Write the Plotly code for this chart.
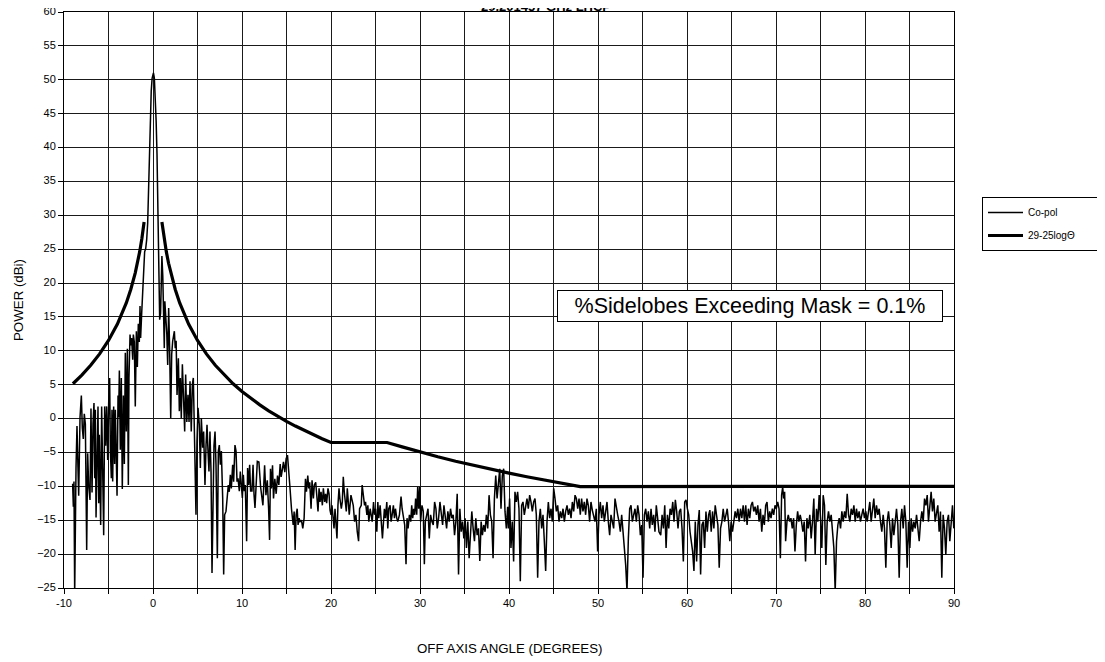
import plotly.graph_objects as go

# ---------------- data ----------------
title_text = "29.201457 GHz LHCP"
x_tick_vals = [-10, -5, 0, 5, 10, 15, 20, 25, 30, 35, 40, 45, 50, 55, 60, 65, 70, 75, 80, 85, 90]
x_tick_text = ["-10", "", "0", "", "10", "", "20", "", "30", "", "40", "", "50", "", "60", "", "70", "", "80", "", "90"]
y_tick_vals = list(range(-25, 61, 5))

# Co-pol measured pattern (angle deg, power dBi), by region
copol_left = [(-9.03,-9.6),(-8.95,-13.0),(-8.88,-9.3),(-8.80,-26.0),(-8.65,-7.2),(-8.54,-1.1),(-8.43,-7.2),(-8.35,-11.4),(-8.20,0.2),(-8.05,3.4),(-7.94,-1.4),(-7.83,-3.0),(-7.72,0.7),(-7.60,-0.8),(-7.45,-19.4),(-7.34,-5.1),(-7.23,-9.8),(-7.08,-12.0),(-6.97,1.5),(-6.85,-10.9),(-6.74,-0.8),(-6.63,2.3),(-6.55,-8.8),(-6.48,1.3),(-6.40,-14.6),(-6.29,-4.0),(-6.18,1.8),(-6.10,-12.5),(-6.03,-2.4),(-5.88,-15.7),(-5.77,1.8),(-5.66,-7.2),(-5.54,-17.2),(-5.43,1.8),(-5.32,-4.0),(-5.21,1.8),(-5.09,-6.1),(-4.98,2.3),(-4.87,6.0),(-4.79,-4.6),(-4.68,-8.8),(-4.61,1.3),(-4.53,-9.3),(-4.42,1.8),(-4.31,-6.7),(-4.23,1.3),(-4.16,-5.1),(-4.04,-11.4),(-3.93,3.4),(-3.86,0.2),(-3.78,7.1),(-3.67,-4.6),(-3.56,6.0),(-3.45,-10.4),(-3.33,3.4),(-3.22,-6.7),(-3.11,9.7),(-3.00,-1.9),(-2.88,10.3),(-2.77,-9.8),(-2.70,6.0),(-2.58,12.4),(-2.51,10.8),(-2.40,11.9),(-2.28,8.7),(-2.21,12.4),(-2.10,11.3),(-1.99,1.8),(-1.87,12.9),(-1.76,7.6),(-1.65,14.0),(-1.54,11.3),(-1.46,16.6),(-1.39,11.9),(-1.27,15.6),(-1.16,19.3),(-1.05,20.3),(-0.94,24.6),(-0.82,25.1),(-0.71,26.4)]
copol_beam = [(-0.60,28.8),(-0.50,34.5),(-0.40,40.5),(-0.30,45.0),(-0.20,48.3),(-0.10,50.2),(0.05,51.0),(0.15,50.3),(0.25,48.0),(0.35,44.0),(0.45,39.0),(0.55,31.0),(0.62,25.0),(0.68,20.5),(0.75,14.6),(0.85,15.5),(1.00,24.0)]
copol_near_right = [(1.10,21.0),(1.20,15.0),(1.27,10.4),(1.33,17.3),(1.39,16.0),(1.47,14.0),(1.55,12.5),(1.65,7.9),(1.76,16.3),(1.87,10.4),(1.99,0.1),(2.10,9.5),(2.21,11.4),(2.40,12.9),(2.50,10.4),(2.60,11.5),(2.70,3.5),(2.85,8.9),(2.96,1.1),(3.07,6.0),(3.18,0.1),(3.30,8.0),(3.40,5.0),(3.56,-1.9),(3.67,6.5),(3.80,-0.5),(3.93,3.5),(4.05,-0.5),(4.16,5.5),(4.30,-1.9),(4.42,5.0),(4.53,6.0),(4.68,-3.9),(4.83,-14.2),(4.94,-3.4),(5.06,1.6),(5.20,-0.9),(5.32,-7.3),(5.43,0.1),(5.58,-4.3),(5.69,-1.9),(5.84,-9.8),(5.96,-3.9),(6.07,-0.9),(6.18,-4.8),(6.29,-7.8),(6.40,-1.9),(6.52,-7.8),(6.63,-22.8),(6.75,-7.8),(6.85,-4.0),(6.97,-1.9),(7.08,-6.8),(7.23,-20.6),(7.34,-4.8),(7.45,-3.9),(7.57,-6.8),(7.68,-4.8),(7.83,-11.7),(7.94,-23.0),(8.05,-14.2),(8.20,-13.7),(8.35,-11.2),(8.46,-9.8),(8.57,-10.8),(8.69,-8.3),(8.80,-10.3),(8.95,-6.8),(9.06,-9.3),(9.21,-3.9),(9.33,-4.8),(9.44,-9.3),(9.55,-8.8),(9.70,-10.7),(9.81,-7.8),(9.93,-9.8),(10.04,-11.7),(10.15,-8.3),(10.26,-10.7),(10.37,-9.8),(10.52,-18.1),(10.63,-7.3),(10.75,-9.8),(10.86,-6.8),(10.97,-10.7),(11.12,-10.7),(11.24,-6.8),(11.35,-11.2),(11.46,-13.2),(11.57,-10.3),(11.72,-6.3)]
copol_12_23 = [(11.90,-6.4),(12.09,-10.1),(12.35,-12.8),(12.54,-6.9),(12.69,-11.3),(12.84,-9.1),(12.99,-13.3),(13.10,-17.9),(13.20,-7.4),(13.30,-10.3),(13.43,-6.9),(13.54,-11.8),(13.69,-8.9),(13.84,-11.1),(13.99,-8.4),(14.14,-9.8),(14.29,-6.7),(14.40,-8.6),(14.55,-7.4),(14.66,-6.4),(14.81,-7.9),(14.96,-5.9),(15.11,-5.4),(15.22,-7.9),(15.37,-9.8),(15.56,-13.3),(15.75,-15.7),(15.86,-13.7),(15.97,-19.4),(16.08,-14.2),(16.20,-13.3),(16.30,-15.7),(16.42,-14.7),(16.53,-15.2),(16.68,-15.0),(16.83,-16.2),(16.98,-14.7),(17.13,-8.9),(17.24,-10.8),(17.39,-8.4),(17.50,-10.3),(17.61,-9.4),(17.76,-13.3),(17.87,-9.1),(18.02,-11.8),(18.13,-9.8),(18.28,-9.4),(18.40,-11.3),(18.54,-13.7),(18.66,-10.3),(18.77,-12.3),(18.88,-10.8),(19.03,-12.8),(19.14,-10.3),(19.29,-12.3),(19.40,-11.1),(19.51,-12.5),(19.66,-10.3),(19.78,-11.1),(19.89,-13.5),(20.00,-14.2),(20.11,-12.8),(20.22,-14.7),(20.34,-16.2),(20.45,-13.3),(20.56,-15.2),(20.67,-17.7),(20.78,-12.8),(20.90,-10.3),(21.00,-11.8),(21.16,-13.3),(21.27,-12.3),(21.38,-8.6),(21.49,-10.8),(21.60,-12.3),(21.72,-13.7),(21.83,-10.3),(21.94,-11.8),(22.05,-14.2),(22.24,-11.3),(22.39,-12.3),(22.50,-12.8),(22.65,-15.2),(22.80,-14.2),(22.95,-16.7),(23.10,-18.1)]
copol_23_40 = [(23.21,-13.3),(23.40,-12.8),(23.50,-9.8),(23.66,-11.8),(23.77,-12.8),(23.88,-12.3),(24.03,-14.2),(24.14,-12.8),(24.25,-15.2),(24.40,-13.3),(24.52,-14.2),(24.63,-15.2),(24.78,-12.3),(24.89,-14.2),(25.00,-13.3),(25.15,-16.7),(25.26,-12.3),(25.37,-14.7),(25.52,-12.8),(25.63,-15.7),(25.78,-17.7),(25.90,-15.2),(26.00,-13.3),(26.12,-14.7),(26.27,-12.3),(26.38,-16.2),(26.49,-13.3),(26.64,-12.8),(26.75,-15.2),(26.87,-14.2),(27.01,-12.8),(27.13,-14.7),(27.24,-13.3),(27.39,-14.7),(27.50,-15.2),(27.69,-14.2),(27.87,-11.5),(27.99,-13.3),(28.13,-14.2),(28.28,-15.7),(28.43,-21.5),(28.54,-14.7),(28.66,-16.2),(28.81,-14.2),(28.96,-15.2),(29.07,-12.8),(29.18,-14.7),(29.29,-13.3),(29.40,-14.2),(29.51,-11.8),(29.63,-14.2),(29.74,-10.1),(29.85,-13.3),(29.96,-10.1),(30.07,-15.2),(30.22,-12.8),(30.37,-13.7),(30.49,-21.5),(30.60,-15.2),(30.75,-14.2),(30.90,-13.3),(31.04,-17.7),(31.19,-14.2),(31.34,-15.2),(31.49,-15.7),(31.64,-12.3),(31.79,-13.3),(31.94,-16.2),(32.09,-14.7),(32.24,-12.3),(32.39,-13.7),(32.54,-15.7),(32.69,-12.8),(32.84,-14.2),(32.99,-16.2),(33.13,-13.7),(33.28,-15.2),(33.43,-13.3),(33.58,-14.7),(33.73,-14.2),(33.88,-17.2),(34.03,-15.2),(34.18,-11.1),(34.33,-23.0),(34.48,-13.3),(34.63,-16.7),(34.78,-15.2),(34.93,-17.7),(35.07,-14.7),(35.22,-19.1),(35.37,-15.2),(35.52,-20.6),(35.67,-16.7),(35.82,-13.7),(35.97,-16.2),(36.12,-18.1),(36.27,-14.7),(36.42,-17.2),(36.57,-16.2),(36.72,-21.0),(36.87,-15.2),(37.01,-17.2),(37.16,-15.7),(37.31,-16.7),(37.46,-14.2),(37.61,-16.2),(37.76,-11.3),(37.91,-14.2),(38.06,-15.2),(38.21,-20.6),(38.36,-11.8),(38.51,-8.4),(38.66,-11.8),(38.81,-9.4),(38.96,-7.4),(39.10,-13.3),(39.25,-8.4),(39.40,-7.4),(39.55,-13.7),(39.70,-16.2),(39.85,-13.0)]
copol_40_57 = [(39.93,-16.2),(40.07,-11.8),(40.22,-19.1),(40.37,-15.2),(40.52,-21.1),(40.67,-10.8),(40.82,-12.3),(40.97,-10.8),(41.12,-13.3),(41.27,-24.0),(41.42,-12.8),(41.57,-12.3),(41.72,-14.2),(41.87,-12.8),(42.02,-11.8),(42.17,-13.3),(42.32,-11.3),(42.47,-12.3),(42.62,-13.7),(42.77,-12.3),(42.92,-11.8),(43.07,-14.2),(43.22,-23.5),(43.37,-15.2),(43.52,-13.3),(43.67,-16.2),(43.82,-14.2),(43.97,-18.1),(44.12,-22.5),(44.27,-15.2),(44.42,-12.3),(44.57,-14.7),(44.72,-13.3),(44.87,-15.2),(45.02,-10.3),(45.17,-11.8),(45.32,-13.7),(45.47,-12.8),(45.62,-15.2),(45.77,-13.7),(45.92,-14.7),(46.07,-13.3),(46.22,-15.2),(46.37,-13.7),(46.52,-12.8),(46.67,-14.2),(46.82,-13.3),(46.97,-14.7),(47.12,-12.3),(47.27,-13.7),(47.42,-11.3),(47.57,-11.8),(47.72,-13.3),(47.87,-11.8),(48.01,-14.2),(48.16,-11.8),(48.31,-13.7),(48.46,-12.3),(48.61,-14.2),(48.76,-11.8),(48.91,-12.8),(49.06,-15.2),(49.21,-12.3),(49.36,-13.5),(49.51,-14.2),(49.66,-15.2),(49.81,-13.3),(49.96,-19.6),(50.11,-14.2),(50.26,-12.3),(50.41,-14.7),(50.56,-12.8),(50.71,-15.2),(50.86,-13.3),(51.01,-12.3),(51.16,-15.2),(51.31,-17.2),(51.46,-14.2),(51.61,-15.2),(51.76,-16.2),(51.91,-11.8),(52.06,-13.3),(52.21,-14.2),(52.36,-15.2),(52.51,-16.7),(52.66,-14.2),(52.81,-16.2),(52.96,-19.1),(53.11,-21.6),(53.26,-25.5),(53.41,-17.7),(53.56,-13.3),(53.71,-12.8),(53.86,-15.2),(54.01,-14.2),(54.16,-13.3),(54.31,-15.2),(54.46,-12.8),(54.61,-14.2),(54.76,-17.2),(54.91,-15.7),(55.06,-23.5),(55.21,-14.2),(55.36,-13.3),(55.51,-15.2),(55.66,-13.7),(55.81,-16.2),(55.96,-13.3),(56.10,-15.7),(56.25,-14.2),(56.40,-16.7),(56.55,-12.8),(56.70,-14.7),(56.85,-16.7)]
copol_57_74 = [(57.05,-17.2),(57.20,-14.2),(57.35,-16.2),(57.50,-12.8),(57.65,-19.1),(57.80,-14.2),(57.95,-16.2),(58.10,-13.3),(58.25,-14.2),(58.40,-12.3),(58.54,-15.2),(58.69,-12.0),(58.84,-13.7),(58.99,-16.2),(59.14,-13.7),(59.29,-13.3),(59.44,-16.2),(59.59,-21.1),(59.74,-12.3),(59.89,-12.0),(60.04,-13.3),(60.19,-14.2),(60.34,-16.7),(60.49,-18.1),(60.63,-19.6),(60.78,-22.5),(60.93,-15.2),(61.08,-21.1),(61.23,-15.7),(61.38,-13.5),(61.53,-23.0),(61.68,-15.7),(61.83,-15.2),(61.98,-19.1),(62.13,-13.7),(62.28,-16.7),(62.43,-14.2),(62.57,-13.5),(62.72,-16.7),(62.87,-13.7),(63.02,-16.2),(63.17,-12.8),(63.32,-14.2),(63.47,-15.7),(63.62,-22.0),(63.77,-16.2),(63.92,-15.2),(64.07,-13.3),(64.22,-15.2),(64.37,-14.2),(64.52,-13.3),(64.66,-15.2),(64.81,-18.1),(64.96,-15.2),(65.11,-16.7),(65.26,-15.2),(65.41,-13.7),(65.56,-14.7),(65.71,-13.3),(65.86,-15.2),(66.01,-13.3),(66.16,-14.7),(66.31,-12.8),(66.46,-15.2),(66.60,-12.8),(66.75,-15.7),(66.90,-13.3),(67.05,-14.7),(67.20,-12.8),(67.35,-12.3),(67.50,-13.7),(67.65,-13.0),(67.80,-14.2),(67.95,-12.8),(68.10,-15.2),(68.25,-13.3),(68.40,-16.7),(68.54,-14.2),(68.69,-15.7),(68.84,-12.8),(68.99,-12.3),(69.14,-15.2),(69.29,-13.7),(69.44,-14.7),(69.59,-13.3),(69.74,-14.2),(69.89,-12.8),(70.04,-13.3),(70.19,-12.3),(70.34,-13.3),(70.49,-20.6),(70.63,-11.3),(70.75,-10.1),(70.86,-11.8),(70.97,-10.8),(71.08,-18.1),(71.23,-15.2),(71.38,-14.2),(71.53,-15.2),(71.68,-14.7),(71.83,-16.2),(71.98,-14.7),(72.13,-19.6),(72.28,-15.7),(72.43,-13.7),(72.57,-15.2),(72.72,-14.2),(72.87,-15.2),(73.02,-16.7),(73.17,-15.2),(73.32,-21.1),(73.47,-14.7),(73.62,-16.2)]
copol_74_90 = [(73.80,-14.2),(73.95,-17.7),(74.10,-15.2),(74.25,-11.8),(74.40,-20.1),(74.55,-13.3),(74.70,-15.2),(74.85,-11.3),(75.00,-14.7),(75.15,-19.1),(75.30,-11.3),(75.45,-12.8),(75.60,-21.6),(75.75,-15.2),(75.90,-13.7),(76.05,-15.2),(76.20,-14.2),(76.35,-16.2),(76.50,-19.1),(76.65,-25.5),(76.80,-18.1),(76.95,-15.7),(77.10,-14.7),(77.25,-16.2),(77.40,-13.7),(77.55,-15.2),(77.70,-13.7),(77.85,-14.7),(78.00,-11.1),(78.15,-14.2),(78.30,-15.2),(78.45,-13.3),(78.60,-14.2),(78.75,-12.8),(78.90,-15.2),(79.04,-13.3),(79.19,-14.7),(79.34,-13.7),(79.49,-15.2),(79.64,-14.2),(79.79,-13.3),(79.94,-14.7),(80.09,-13.7),(80.24,-15.2),(80.39,-13.7),(80.54,-12.3),(80.69,-15.2),(80.84,-13.3),(80.99,-11.8),(81.14,-14.7),(81.29,-12.8),(81.44,-14.2),(81.59,-13.3),(81.74,-15.2),(81.89,-16.7),(82.04,-14.2),(82.19,-16.2),(82.34,-22.0),(82.49,-15.2),(82.64,-13.7),(82.79,-15.7),(82.94,-19.1),(83.09,-14.7),(83.24,-17.2),(83.39,-15.2),(83.54,-13.3),(83.69,-15.7),(83.84,-23.5),(83.99,-15.2),(84.14,-13.3),(84.29,-16.2),(84.44,-12.8),(84.59,-15.2),(84.74,-22.0),(84.89,-15.2),(85.04,-19.1),(85.19,-14.7),(85.34,-16.7),(85.49,-15.2),(85.64,-16.2),(85.79,-14.2),(85.94,-16.2),(86.09,-18.1),(86.24,-15.2),(86.39,-13.7),(86.54,-15.2),(86.69,-11.8),(86.84,-12.8),(86.99,-11.3),(87.13,-15.2),(87.28,-13.3),(87.43,-10.8),(87.58,-13.7),(87.73,-11.8),(87.88,-15.2),(88.03,-14.2),(88.18,-12.8),(88.33,-16.7),(88.48,-13.7),(88.63,-23.5),(88.78,-14.2),(88.93,-16.2),(89.08,-20.1),(89.23,-15.2),(89.38,-14.2),(89.53,-18.1),(89.68,-15.2),(89.83,-12.8),(89.98,-16.2)]

# 29-25logθ mask (angle deg, dBi); two branches
mask_left = [(-9,5.14),(-8,6.42),(-7,7.87),(-6,9.55),(-5,11.53),(-4,13.95),(-3,17.07),(-2.5,19.05),(-2,21.47),(-1.75,22.92),(-1.5,24.60),(-1.25,26.58),(-1,29.0)]
mask_right = [(1,29.0),(1.25,26.58),(1.5,24.60),(1.75,22.92),(2,21.47),(2.5,19.05),(3,17.07),(3.5,15.40),(4,13.95),(5,11.53),(6,9.55),(7,7.87),(8,6.42),(9,5.14),(10,4.0),(11,2.97),(12,2.02),(13,1.15),(14,0.35),(15,-0.40),(16,-1.10),(17,-1.76),(18,-2.38),(19,-2.97),(20,-3.53),(26.3,-3.53),(28,-4.18),(30,-4.93),(32,-5.63),(34,-6.29),(36,-6.91),(38,-7.49),(40,-8.05),(42,-8.58),(44,-9.09),(46,-9.57),(48,-10.03),(90,-10.0)]

annotation_text = "%Sidelobes Exceeding Mask = 0.1%"
# -------------------------------------------------------------------------

copol = copol_left + copol_beam + copol_near_right + copol_12_23 + copol_23_40 + copol_40_57 + copol_57_74 + copol_74_90
copol_x = [p[0] for p in copol]
copol_y = [p[1] for p in copol]
mask_x = [p[0] for p in mask_left] + [None] + [p[0] for p in mask_right]
mask_y = [p[1] for p in mask_left] + [None] + [p[1] for p in mask_right]

FONT = "Arial, Liberation Sans, sans-serif"
W, H = 1105, 662
OFF = 8  # page offset of the figure (body margin)
L, R, T, B = 56, 159, 4, 82
pw, ph = W - L - R, H - T - B


def px_x(page_x):
    return (page_x - OFF - L) / pw


def px_y(page_y):
    return 1 - (page_y - OFF - T) / ph


fig = go.Figure()
fig.add_trace(go.Scatter(x=copol_x, y=copol_y, mode="lines", name="Co-pol",
                         line=dict(color="black", width=1.5), legendgroup="a"))
fig.add_trace(go.Scatter(x=mask_x, y=mask_y, mode="lines", name="29-25logΘ" + "\u00a0" * 15,
                         line=dict(color="black", width=3.2), connectgaps=False, legendgroup="b"))

fig.update_layout(
    width=W, height=H,
    margin=dict(l=L, r=R, t=T, b=B, autoexpand=False),
    paper_bgcolor="white", plot_bgcolor="white",
    font=dict(family=FONT, size=11, color="black"),
    title=dict(text="<b>" + title_text + "</b>", x=(546 - OFF) / W, xanchor="center",
               yref="container", y=1 - 3 / H, yanchor="bottom",
               font=dict(family=FONT, size=13, color="black")),
    showlegend=True,
    legend=dict(x=px_x(982), xanchor="left", y=px_y(197), yanchor="top",
                bordercolor="black", borderwidth=1, bgcolor="white",
                font=dict(family=FONT, size=10, color="black"),
                tracegroupgap=4, itemwidth=35),
    xaxis=dict(range=[-10, 90], tickmode="array", tickvals=x_tick_vals, ticktext=x_tick_text,
               showgrid=True, gridcolor="#1a1a1a", gridwidth=1, automargin=False,
               showline=True, linecolor="black", linewidth=1, mirror=True,
               ticks="outside", ticklen=5, tickcolor="black", zeroline=False,
               ticklabeloverflow="allow",
               tickfont=dict(family=FONT, size=11, color="black")),
    yaxis=dict(range=[-25, 60], tickmode="array", tickvals=y_tick_vals,
               showgrid=True, gridcolor="#1a1a1a", gridwidth=1, automargin=False,
               showline=True, linecolor="black", linewidth=1, mirror=True,
               ticks="outside", ticklen=5, tickcolor="black", zeroline=False,
               ticklabeloverflow="allow", ticklabelshift=-1,
               tickfont=dict(family=FONT, size=11, color="black")),
)

fig.add_annotation(text="POWER (dBi)", xref="paper", yref="paper",
                   x=px_x(18), y=px_y(300), textangle=-90, showarrow=False,
                   xanchor="center", yanchor="middle",
                   font=dict(family=FONT, size=13.3, color="black"))
fig.add_annotation(text="OFF AXIS ANGLE (DEGREES)", xref="paper", yref="paper",
                   x=px_x(509), y=px_y(648), showarrow=False,
                   xanchor="center", yanchor="middle",
                   font=dict(family=FONT, size=13.3, color="black"))
fig.add_annotation(text=annotation_text, xref="paper", yref="paper",
                   x=px_x(750), y=px_y(306), showarrow=False,
                   xanchor="center", yanchor="middle",
                   width=378, height=24, bgcolor="white",
                   bordercolor="black", borderwidth=1, borderpad=3,
                   font=dict(family=FONT, size=21.5, color="black"))

fig.write_html("out.html")
